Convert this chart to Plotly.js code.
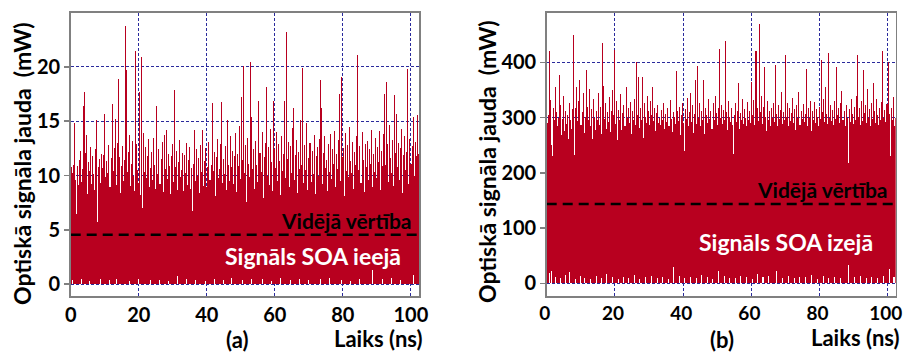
<!DOCTYPE html>
<html>
<head>
<meta charset="utf-8">
<script src="https://cdn.plot.ly/plotly-3.0.1.min.js"></script>
<style>html,body{margin:0;padding:0;background:#fff;}#chart{width:903px;height:353px;}</style>
</head>
<body>
<div id="chart"></div>
<script>
// ---- data ----
const sampleStep = 0.3; // ns between samples
const powerA = [
10.8,10.2,11.0,14.8,9.6,6.5,10.9,9.1,11.4,12.3,
9.4,10.6,16.4,17.7,12.1,13.7,8.3,11.2,10.4,12.6,
9.2,11.8,10.1,8.7,12.4,15.1,5.7,10.8,11.5,9.3,
12.0,10.7,11.9,15.7,9.9,11.3,10.2,12.8,8.9,11.6,
16.6,10.4,12.5,15.2,9.1,13.0,18.9,11.7,8.4,10.9,
12.7,9.5,11.4,23.8,19.7,10.3,12.2,13.7,9.0,11.1,
13.2,10.0,8.6,21.5,12.9,10.5,9.3,17.7,8.2,20.9,
7.0,13.9,10.3,12.6,9.8,11.8,13.4,8.9,10.7,12.2,
9.6,13.5,11.0,8.8,16.4,10.1,12.4,9.2,11.5,13.1,
8.5,13.7,10.6,14.2,9.7,12.0,10.9,8.3,11.8,12.9,
9.4,17.9,10.8,12.3,8.7,11.2,13.3,9.9,10.5,12.1,
8.6,11.9,10.2,13.0,9.1,11.4,12.6,8.8,10.7,6.7,
11.1,14.2,9.5,12.4,10.0,11.6,8.4,12.8,10.3,14.2,
9.0,11.3,12.5,8.9,10.8,13.1,9.6,11.0,16.7,10.4,
12.2,8.1,11.7,13.4,9.8,10.6,12.9,16.8,9.3,11.5,
10.1,12.7,8.7,15.1,11.0,9.5,13.6,10.8,12.3,9.2,
11.8,13.9,8.5,12.0,10.9,14.6,9.7,17.2,11.4,20.1,
10.2,12.8,7.6,13.5,11.1,9.9,20.5,15.4,10.6,12.4,
8.8,13.2,11.0,9.4,16.9,12.1,10.3,14.0,7.9,11.7,
13.0,18.2,10.0,12.6,9.1,14.3,11.2,8.6,16.9,12.4,
10.7,14.0,9.5,12.9,11.3,8.2,13.6,10.4,12.0,16.9,
9.8,23.2,11.5,13.1,8.9,12.7,10.2,14.4,16.2,9.6,
11.9,13.3,8.4,12.2,10.6,15.1,11.0,19.9,9.3,12.8,
10.5,14.8,8.7,11.6,13.0,9.4,12.3,10.1,13.7,8.3,
11.8,12.6,10.0,13.4,18.8,16.2,9.2,12.1,13.6,10.7,
11.4,8.6,12.9,10.3,13.8,9.7,12.4,11.1,14.1,8.9,
12.0,10.6,13.3,17.5,9.5,19.1,11.7,12.5,8.1,13.9,
10.4,12.8,9.9,14.5,11.3,10.2,13.1,8.8,12.2,11.0,
13.6,21.1,10.5,12.7,9.3,14.0,11.4,8.5,12.9,10.8,
13.2,9.6,12.4,11.1,14.2,8.9,12.0,10.3,13.5,9.8,
12.6,11.2,14.1,8.7,12.3,10.9,13.8,17.5,11.0,18.6,
12.9,9.4,14.7,11.6,10.2,13.3,9.0,17.4,12.1,15.7,
10.8,13.0,9.6,12.5,14.3,8.4,11.9,13.6,10.5,12.2,
19.8,9.2,13.4,11.1,12.7,15.4,10.0,13.1,11.8,15.6,
12.0,9.0
];
const powerB = [
290,305,420,332,250,230,318,296,355,310,
284,300,377,322,268,298,340,276,312,288,
305,262,326,296,280,315,450,232,318,356,
294,330,368,286,310,345,272,302,386,320,
296,352,284,316,262,334,300,278,312,296,
345,286,320,270,435,357,298,326,280,310,
292,338,274,312,350,304,423,288,330,260,
314,296,342,278,308,322,284,355,300,318,
290,328,270,312,296,334,286,401,305,374,
282,318,296,374,264,326,302,290,340,312,
286,330,304,356,294,318,276,308,322,290,
300,286,314,296,326,280,306,292,318,284,
332,298,274,310,302,288,385,312,294,320,
268,304,326,290,240,316,298,336,284,310,
344,292,322,272,306,368,288,394,300,326,
284,312,296,368,270,318,304,290,334,298,
312,280,326,296,340,308,286,318,424,300,
322,288,314,296,438,310,278,330,302,292,
318,286,235,304,326,292,312,362,280,308,
296,334,288,316,300,284,328,296,312,290,
365,304,332,286,420,318,294,470,310,340,
288,320,392,302,276,330,296,312,284,318,
300,326,292,395,306,284,322,298,314,346,
288,310,296,414,302,326,284,318,294,308,
336,290,316,278,322,300,346,286,312,298,
324,292,306,388,284,318,300,330,276,312,
296,328,290,316,302,284,320,298,404,310,
334,292,356,306,288,417,300,322,294,314,
286,330,298,391,304,318,290,326,348,296,
312,284,322,300,217,316,292,334,306,288,
320,296,340,414,302,318,286,330,294,386,
308,322,290,352,300,316,284,326,298,362,
312,290,334,304,286,318,296,328,420,300,
314,292,324,401,306,230,318,296,338,284,
300,290
];
const meanA = 4.55;   // mW, "Vidējā vērtība" (a)
const meanB = 143.7;  // mW, "Vidējā vērtība" (b)
// raised minima near zero (white specks at the bottom)
const lowTimesA = [0.6,3.2,5.5,8.9,11.4,13.6,17.2,19.8,23.5,26.1,28.7,31.3,34.0,36.8,39.5,42.2,45.0,47.3,50.6,53.1,56.4,59.0,61.8,64.5,67.2,70.0,73.4,76.1,79.5,82.3,85.0,88.6,91.7,94.2,97.0,100.8];
const lowLevelsA = [0.4,0.5,0.3,0.45,0.35,0.5,0.3,0.5,0.4,0.35,0.3,0.7,0.45,0.4,0.3,0.5,0.35,0.6,0.4,0.5,0.45,0.3,0.55,0.4,0.5,0.35,0.45,0.6,0.4,0.3,0.5,1.3,0.45,0.6,0.4,0.85];
const lowTimesB = [0.9,1.3,2.6,4.1,5.5,6.8,8.3,9.9,11.2,12.8,14.5,16.0,17.6,19.3,21.0,22.4,24.1,25.8,27.3,29.0,30.7,32.4,34.0,35.6,37.1,38.9,40.5,42.2,43.8,45.4,47.0,48.7,50.3,52.0,53.6,55.2,56.9,58.5,60.2,61.8,63.4,65.0,67.4,69.1,70.8,72.5,74.2,75.9,77.6,79.3,81.0,82.7,84.4,86.1,88.4,90.2,91.9,93.6,95.3,97.0,98.7,100.6,101.8];
const lowLevelsB = [18,23,12,9,15,20,8,13,10,7,14,9,16,11,8,12,10,15,7,11,13,9,12,8,29,14,10,12,9,15,11,8,23,13,10,9,14,12,8,16,11,13,22,10,14,9,12,11,15,8,13,10,12,9,33,11,14,10,12,9,13,25,11];
const xTicks = [0,20,40,60,80,100];
const yTicksA = [0,5,10,15,20];
const yTicksB = [0,100,200,300,400];
const labels = {
  yTitle: 'Optiskā signāla jauda  (mW)',
  xTitle: 'Laiks (ns)',
  mean: 'Vidējā vērtība',
  inA: 'Signāls SOA ieejā',
  outB: 'Signāls SOA izejā',
  panelA: '(a)', panelB: '(b)'
};

// ---- build ----
const RED = '#B8001F';
const times = n => Array.from({length: n}, (_, i) => i * sampleStep + sampleStep / 2);
const tA = times(powerA.length), tB = times(powerB.length);
const FONT = 'Lato, "Open Sans", sans-serif';

const traces = [
  {type:'bar', x:tA, y:powerA, width:sampleStep, marker:{color:RED, line:{width:0}}, xaxis:'x', yaxis:'y', hoverinfo:'skip'},
  {type:'bar', x:lowTimesA, y:lowLevelsA, width:sampleStep, marker:{color:'#ffffff', line:{width:0}}, xaxis:'x', yaxis:'y', hoverinfo:'skip'},
  {type:'scatter', mode:'lines', x:[0, 102.4], y:[meanA, meanA], line:{color:'#000', width:2.5, dash:'10px,6px'}, xaxis:'x', yaxis:'y'},
  {type:'bar', x:tB, y:powerB, width:sampleStep, marker:{color:RED, line:{width:0}}, xaxis:'x2', yaxis:'y2', hoverinfo:'skip'},
  {type:'bar', x:lowTimesB, y:lowLevelsB, width:sampleStep, marker:{color:'#ffffff', line:{width:0}}, xaxis:'x2', yaxis:'y2', hoverinfo:'skip'},
  {type:'scatter', mode:'lines', x:[0, 102.3], y:[meanB, meanB], line:{color:'#000', width:2.5, dash:'10px,6px'}, xaxis:'x2', yaxis:'y2'}
];

const W = 903, H = 353;
const px = v => v / W, py = v => 1 - v / H;
const tickFont = {family: FONT, size: 20, color: '#000', weight: 700};
const common = {
  showgrid: true, gridcolor: '#2a2a9c', griddash: '3px,2px', gridwidth: 1,
  showline: true, mirror: true, linecolor: '#808080', linewidth: 1.5,
  zeroline: false, tickfont: tickFont, fixedrange: true, ticklabeloverflow: 'allow'
};
const xCommon = Object.assign({}, common, {tickvals: xTicks, ticks: '', ticklabelstandoff: 0});
const yCommon = Object.assign({}, common, {ticks: 'outside', ticklen: 5, tickcolor: '#808080', tickwidth: 1.5});

const ann = (text, x, y, size, color, angle, xanchor) => ({
  text, x: px(x), y: py(y), xref: 'paper', yref: 'paper', showarrow: false,
  xanchor: xanchor || 'center', yanchor: 'middle', textangle: angle || 0,
  font: {family: FONT, size, color, weight: 700}
});

const layout = {
  width: W, height: H, margin: {l:0, r:0, t:0, b:0},
  paper_bgcolor: '#fff', plot_bgcolor: '#fff', showlegend: false,
  barmode: 'overlay', bargap: 0,
  xaxis: Object.assign({}, xCommon, {domain: [px(70.7), px(419)], range: [0, 102.4], anchor: 'y'}),
  yaxis: Object.assign({}, yCommon, {domain: [py(296), py(12.7)], range: [-1.1, 25], tickvals: yTicksA, anchor: 'x'}),
  xaxis2: Object.assign({}, xCommon, {domain: [px(546.7), px(895.7)], range: [0, 102.3], anchor: 'y2',
    tickfont: {family: FONT, size: 19, color: '#000', weight: 700}, ticklabelshift: -2}),
  yaxis2: Object.assign({}, yCommon, {domain: [py(296), py(12.7)], range: [-23, 490], tickvals: yTicksB, anchor: 'x2'}),
  annotations: [
    ann(labels.yTitle, 22, 164, 23, '#000', -90),
    ann(labels.xTitle, 425, 338, 22, '#000', 0, 'right'),
    ann(labels.panelA, 237, 339, 22, '#000'),
    ann(labels.mean, 414, 221, 21, '#000', 0, 'right'),
    ann(labels.inA, 313, 256, 23, '#fff'),
    ann(labels.yTitle, 487, 162, 23, '#000', -90),
    ann(labels.xTitle, 902, 337, 22, '#000', 0, 'right'),
    ann(labels.panelB, 722, 339, 22, '#000'),
    ann(labels.mean, 890, 189, 21, '#000', 0, 'right'),
    ann(labels.outB, 786, 242, 23, '#fff')
  ]
};

Plotly.newPlot('chart', traces, layout, {staticPlot: true, displayModeBar: false});
</script>
</body>
</html>
